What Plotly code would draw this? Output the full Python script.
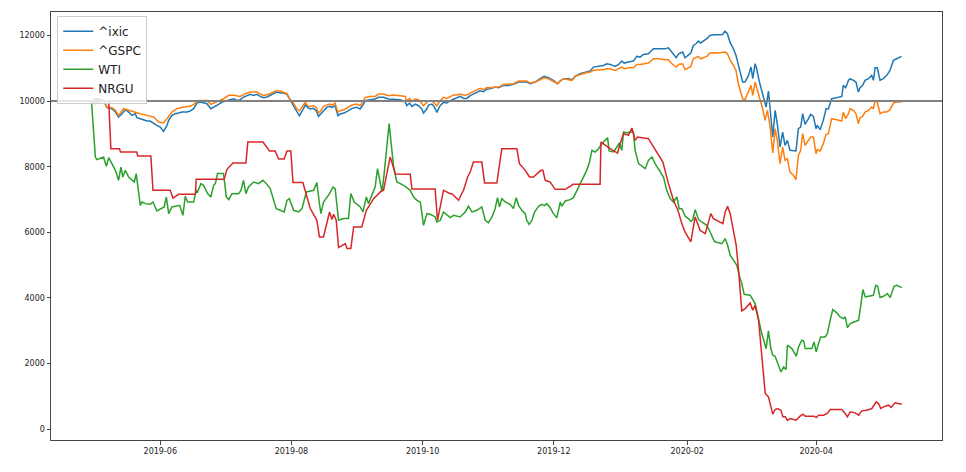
import pandas as pd
import plotly.graph_objects as go

START = "2019-04-30"

# ---- ^ixic (normalised to 10000) : day offset from START, value ----
ixic_day = [0, 2.5, 4, 5.6, 7.2, 9.5, 11.1, 12.6, 14.2, 15.7,
            17.3, 18.8, 20.4, 21.1, 22.7, 24.2, 25.8, 27.3, 28.9, 30.4,
            32, 33.5, 35.1, 35.9, 37.4, 39, 40.5, 42.1, 44.4, 45.9,
            47.5, 49, 50.6, 52.1, 53.7, 55.5, 57.6, 59.1, 60.7, 62.2,
            63.8, 66.1, 67.6, 69.2, 70.7, 72.3, 73.8, 75.4, 76.9, 78.5,
            80, 81.6, 83.1, 84.7, 86.2, 87.8, 89.3, 90.9,
            92.4, 93.9, 95.5, 96.7, 98.3, 99.4, 100.5, 101.7, 103.2, 104.5,
            105.6, 106.7, 107.9, 109.4, 110.7, 111.8, 113.3, 114.6, 115.6, 117.5,
            119.5, 121.1, 123.4, 124.9, 126.2, 127.3, 129.6, 131.9, 133.5, 135.8,
            138.1, 140.4, 143.5, 145.9, 146.6, 147.9, 149, 150.5, 152.1, 153.6,
            154.4, 155.9, 156.7, 158.3, 159.3, 160.6, 162.1, 163.7, 165.2, 166.8,
            168.3, 169.9, 171.4, 173, 174.5, 176.1, 177.6, 179.2, 180.7, 182.3,
            183.8,
            185.4, 187.7, 189.3, 191.6, 193.9, 196.2, 198.6, 200.9, 202.4, 204,
            206.3, 208.6, 210.5, 212.5, 214.8, 216.7, 217.9, 219.5, 221.8, 223.4,
            224.9, 227.2, 229.6, 231.9, 233.4, 235.8, 238.1, 239.6, 241.2, 243.5,
            245.1, 246.6, 247.7, 249.7, 252, 253.6, 255.1, 256.7, 259, 261.3,
            263.7, 266.8, 268.3, 269.9, 271.9, 273,
            274.9, 276, 277.6, 278.7, 279.9, 281.1, 282.2, 283.3, 284.5, 286.1,
            287.6, 289.2, 291.5, 293.5, 294.6, 295.7, 296.9, 298.5, 299.7, 300.8,
            301.6, 302.8, 303.9, 305.5, 306.7, 307.5, 308.6, 309.3, 310.6, 311.7,
            312.8, 313.7, 314.8, 315.5, 316.8, 317.9, 318.9, 320.2, 321.4, 322.5,
            323.6, 324.8, 326.4, 327.6, 328.7, 329.8, 330.7, 331.8, 333.4, 334.4,
            335.7, 336.9, 337.5, 338.8, 340.3, 341.6, 342.7, 344.2, 346.5, 348.9,
            349.6, 350.7, 352, 352.7, 354.3, 355.5, 356.6, 357.4, 358.6, 359.7,
            361.3, 362.8, 363.6, 364.4, 365.4, 366.7, 368.2, 369.8, 371.3, 372.9,
            374.4, 376.7]
ixic_val = [10000, 10072, 10042, 10021, 9798, 9767, 9666, 9514, 9615, 9737,
            9666, 9564, 9615, 9493, 9463, 9432, 9392, 9392, 9310, 9260,
            9209, 9077, 9260, 9412, 9564, 9615, 9636, 9666, 9666, 9696,
            9767, 9940, 9971, 9940, 9920, 9767, 9839, 9900, 9971, 10001,
            10042, 10072, 10021, 10042, 10123, 10174, 10204, 10174, 10204, 10143,
            10103, 10123, 10174, 10245, 10275, 10245, 10245, 10204,
            10011, 9859, 9676, 9554, 9737, 9879, 9808, 9757, 9778, 9706,
            9534, 9605, 9706, 9808, 9838, 9808, 9859, 9554, 9605, 9635,
            9706, 9778, 9808, 9757, 9879, 10011, 10042, 10062, 10113, 10113,
            10062, 10062, 10042, 9981, 9859, 9940, 9838, 9909, 9859, 9757,
            9635, 9757, 9879, 9909, 9838, 9656, 9859, 9960, 9940, 10011,
            10062, 10113, 10143, 10082, 10082, 10164, 10214, 10285, 10316, 10285,
            10366,
            10377, 10428, 10407, 10478, 10478, 10509, 10580, 10580, 10580, 10529,
            10580, 10681, 10752, 10712, 10631, 10529, 10610, 10681, 10681, 10651,
            10752, 10834, 10884, 10915, 11036, 11057, 11087, 11138, 11118, 11057,
            11118, 11219, 11158, 11189, 11219, 11362, 11341, 11422, 11442, 11595,
            11595, 11595, 11625, 11493, 11321, 11442,
            11493, 11321, 11392, 11463, 11697, 11747, 11828, 11767, 11828, 11900,
            12001, 12021, 12021, 12031, 12133, 12052, 11798, 11595, 11392, 11087,
            10955, 10580, 10580, 10783, 11036, 10681, 11138, 10986, 10580, 10275,
            9971, 9818, 10306, 9818, 8904, 9717, 9311, 8600, 9057, 8651,
            8803, 8498, 8498, 8478, 9158, 9209, 9615, 9290, 9463, 9595,
            9534, 9158, 9260, 9128, 9412, 9767, 9767, 10072, 10103, 10143,
            10478, 10407, 10631, 10681, 10631, 10580, 10275, 10407, 10478, 10631,
            10681, 10783, 10631, 11016, 11016, 10631, 10681, 10783, 10935, 11240,
            11290, 11362]

# ---- ^GSPC ----
gspc_day = [0, 1.8, 3.3, 5.6, 7.2, 9.5, 11.1, 12.6, 14.9, 17.3,
            19.6, 22.7, 25.8, 28.9, 31.2, 33.5, 35.1, 37.4, 39.7, 42.8,
            45.9, 47.5, 49.8, 53.7, 55.5, 58.3, 61.4, 63.8, 66.1, 69.2,
            71.5, 73.8, 76.9, 80, 83.1, 85.4, 87.8, 90.9,
            92.4, 93.9, 95.5, 96.7, 98.3, 99.4, 100.5, 101.7, 103.2, 104.5,
            105.6, 106.7, 107.9, 109.4, 110.7, 111.8, 113.3, 114.6, 115.6, 117.5,
            119.5, 121.1, 123.4, 124.9, 126.2, 127.3, 129.6, 131.9, 133.5, 135.8,
            138.1, 140.4, 143.5, 145.9, 146.6, 147.9, 149, 150.5, 152.1, 153.6,
            154.4, 155.9, 156.7, 158.3, 159.3, 160.6, 162.1, 163.7, 165.2, 166.8,
            168.3, 169.9, 171.4, 173, 174.5, 176.1, 177.6, 179.2, 180.7, 182.3,
            183.8,
            185.4, 187.7, 189.3, 191.6, 193.9, 196.2, 198.6, 200.9, 202.4, 204,
            206.3, 208.6, 210.5, 212.5, 214.8, 216.7, 217.9, 219.5, 221.8, 223.4,
            224.9, 227.2, 229.6, 231.9, 233.4, 235.8, 238.1, 239.6, 241.2, 243.5,
            245.1, 246.6, 247.7, 249.7, 252, 253.6, 255.1, 256.7, 259, 261.3,
            263.7, 266.8, 268.3, 269.9, 271.9, 273,
            274.9, 276, 277.6, 278.7, 279.9, 281.1, 282.2, 283.3, 284.5, 286.1,
            287.6, 289.2, 291.5, 293.5, 294.6, 295.7, 296.9, 298.5, 299.7, 300.8,
            301.9, 302.8, 303.9, 305.5, 306.7, 307.5, 308.6, 309.7, 310.9, 312.1,
            313.2, 314.3, 315.5, 316.8, 317.9, 318.9, 320.2, 321.4, 322.5, 323.6,
            324.8, 326.4, 327.6, 328.7, 329.8, 330.7, 331.8, 333.4, 334.4, 335.7,
            336.9, 337.5, 338.8, 340.3, 341.6, 342.7, 344.2, 346.5, 348.9, 349.6,
            350.7, 352, 352.7, 354.3, 355.5, 356.6, 357.4, 358.6, 359.7, 361.3,
            362.8, 363.6, 364.4, 365.4, 366.7, 368.2, 369.8, 371.3, 372.9, 374.4,
            376.7]
gspc_val = [10000, 9920, 9971, 10021, 9818, 9798, 9717, 9564, 9767, 9717,
            9666, 9615, 9564, 9514, 9361, 9331, 9463, 9666, 9767, 9818,
            9839, 9900, 10021, 10021, 9900, 9971, 10072, 10174, 10174, 10143,
            10225, 10275, 10275, 10174, 10225, 10306, 10306, 10225,
            10042, 9940, 9757, 9706, 9838, 9960, 9859, 9838, 9859, 9808,
            9635, 9706, 9838, 9879, 9909, 9879, 9940, 9656, 9706, 9737,
            9808, 9879, 9909, 9859, 9981, 10113, 10143, 10143, 10214, 10214,
            10164, 10184, 10164, 10143, 10011, 10082, 9981, 10062, 10042, 9940,
            9859, 9960, 10011, 10011, 9940, 9859, 10011, 10113, 10082, 10143,
            10184, 10184, 10214, 10184, 10184, 10245, 10285, 10346, 10387, 10346,
            10417,
            10407, 10428, 10428, 10509, 10509, 10529, 10610, 10610, 10610, 10549,
            10580, 10651, 10712, 10681, 10610, 10529, 10610, 10681, 10651, 10631,
            10752, 10813, 10854, 10884, 10935, 10955, 10955, 10986, 10986, 10935,
            10986, 11036, 10986, 11016, 11016, 11118, 11118, 11138, 11158, 11290,
            11290, 11260, 11260, 11138, 11036, 11118,
            11138, 10955, 11016, 11057, 11290, 11341, 11362, 11290, 11321, 11362,
            11463, 11473, 11463, 11483, 11493, 11442, 11260, 11087, 10935, 10529,
            10225, 10072, 10042, 10275, 10478, 10174, 10580, 10326, 10072, 9767,
            9412, 9717, 9260, 8417, 9158, 8803, 8092, 8600, 8194, 8244,
            7838, 7737, 7605, 8346, 8498, 9006, 8651, 8803, 8904, 8904,
            8397, 8519, 8478, 8702, 8986, 9006, 9463, 9432, 9392, 9666,
            9463, 9615, 9767, 9717, 9615, 9311, 9493, 9534, 9666, 9717,
            9818, 9767, 10001, 9971, 9615, 9666, 9666, 9737, 9940, 9971,
            9971]

# ---- WTI ----
wti_day = [0, 1.8, 2.5, 4.1, 5.6, 6.9, 8, 9.5, 11.1, 12.6,
           13.7, 14.6, 15.7, 17.3, 18.8, 19.9, 20.8, 22.7, 23.5, 25,
           27.3, 28.6, 30.4, 32.8, 33.8, 34.8, 35.9, 37.4, 39.7, 41,
           42.5, 43.6, 44.7, 47.5, 48.7, 49.3, 50.9, 52.1, 54, 55.5,
           56.8, 57.6, 58.6, 61.4, 62.7, 63.8, 65.3, 68.4, 69.5, 70.7,
           71.8, 73, 75.4, 77.7, 79.7, 81.3, 83.1, 85.9, 87.8, 89.6,
           90.9, 92, 94, 96.3, 97.9, 99.9, 103.3, 104.8, 106, 106.7,
           107.9, 110.7, 112.3, 113.3, 114.9, 117.2, 119.5, 120.6, 122.2, 125,
           126.2, 127.8, 128.8, 130.4, 131.9, 133, 133.9, 135.1, 136.1, 138.4,
           140.5, 142, 143.6, 145.9, 148.2, 149.8, 151.3, 152.9, 154.4, 156,
           157.5, 159.8, 160.6, 162.2, 163.7, 165.3, 166.8, 168.4, 169.9, 171.4,
           173.8, 175.3, 176.9, 179.2, 181.5, 183.1, 184.6, 186.2, 187.7, 188.8,
           189.7, 190.8, 192.4, 194.7, 196.2, 197.5, 198.6, 200.1, 201.7, 202.4,
           203.5, 204.8, 206, 207.9, 209.4, 210.7, 211.7, 213.3, 214.8, 216.4,
           218, 218.7, 220.3, 222.6, 224.1, 225.7, 227.2, 228.8, 230.3, 231.6,
           232.7, 234.2, 235.8, 237.3, 238.9, 240, 240.7, 242.7, 244.3, 245.5,
           246.6, 247.4, 248.9, 250.5, 252, 252.8, 254.4, 255.9, 257.5, 259,
           260.6, 262.1, 264.4, 266, 267.5, 269.1, 270.6, 272.2, 273.3, 274.5,
           276.1, 277.6, 278.7, 279.6, 280.7, 282.3, 283.8, 286.1, 287.7, 289.6,
           290.8, 293.1, 294.7, 295.8, 297, 298.5, 300.1, 301.6, 302.4, 303.5,
           306.3, 308.6, 310.2, 311.7, 313.7, 314.8, 315.9, 316.8, 317.9, 319.5,
           320.6, 321.8, 323, 323.6, 325.7, 327.7, 328.8, 330.3, 331.1, 331.9,
           335, 336, 337, 338.1, 339.1, 341.2, 342.2, 343.5, 344.7, 346.6,
           348.1, 349.7, 350.5, 351.5, 352.8, 354.3, 356.7, 357.7, 358.7, 359.8,
           361.3, 363.6, 364.7, 365.6, 366.7, 368.3, 370.1, 371.4, 373.2, 374.5,
           376.8]
wti_val = [10000, 8294, 8215, 8245, 8294, 8011, 8276, 8093, 7889, 7585,
           7990, 7685, 7889, 7685, 7606, 7533, 7789, 6823, 6924, 6874,
           6853, 6924, 6650, 6722, 6772, 7076, 6570, 6772, 6793, 6823,
           6518, 7097, 6924, 6924, 7280, 7229, 7484, 7432, 7179, 7076,
           7432, 7484, 7789, 7789, 7076, 6995, 7179, 7179, 7280, 7585,
           7179, 7381, 7533, 7484, 7585, 7484, 7332, 6722, 6671, 6619,
           6975, 7027, 6671, 6619, 6722, 7229, 7280, 7514, 6874, 6570,
           6924, 7179, 7381, 7332, 6366, 6418, 6418, 7179, 6924, 6772,
           6619, 7076, 6874, 7128, 7381, 7941, 7636, 7229, 7789, 9311,
           7990, 7533, 7483, 7402, 7280, 7077, 6975, 6925, 6214, 6569,
           6549, 6468, 6316, 6366, 6620, 6518, 6447, 6518, 6488, 6468,
           6620, 6793, 6620, 6671, 6773, 6366, 6295, 6468, 6721, 7057,
           6773, 7026, 6925, 6854, 6721, 7057, 6823, 6671, 6569, 6366,
           6244, 6366, 6620, 6793, 6854, 6813, 6874, 6752, 6569, 6447,
           6925, 6793, 6955, 6996, 7057, 7280, 7483, 7686, 7889, 8143,
           8498, 8448, 8549, 8702, 8803, 8884, 8478, 8448, 8600, 8722,
           8498, 9057, 9027, 9057, 9057, 8498, 8093, 8011, 7940, 8194,
           8295, 8093, 7838, 7686, 7280, 7026, 6925, 7077, 6721, 6721,
           6488, 6418, 6330, 6387, 6692, 6387, 6315, 6214, 6010, 5726,
           5696, 5655, 5808, 5605, 5300, 5168, 4995, 4589, 4437, 4112,
           4082, 3828, 3320, 2914, 2457, 2995, 2457, 2254, 2224, 1949,
           1746, 1898, 1817, 2559, 2457, 2224, 2508, 2711, 2691, 2457,
           2457, 2660, 2356, 2609, 2812, 2812, 2914, 3320, 3645, 3544,
           3422, 3371, 3422, 3097, 3219, 3259, 3320, 3750, 4254, 4031,
           4051, 4082, 4386, 4356, 4011, 4051, 4132, 4011, 4356, 4386,
           4316]

# ---- NRGU ----
nrgu_day = [0, 8, 9, 13, 13.5, 21, 21.5, 27.6, 28.6, 36.6,
            37.9, 40.5, 48.3, 48.7, 61.7, 63, 65.8, 71.8, 72.7, 79.7,
            82.8, 85.4, 87, 89.6, 90.9, 92.7, 93.7, 98.3, 101.7, 104.8,
            106, 107.9, 110.7, 111.8, 112.6, 113.8, 114.9, 118, 118.8, 120.6,
            121.9, 125.7, 127.8, 131.2, 135.1, 135.8, 138.9, 141.3, 148.2, 149,
            159.8, 160.9, 163.7, 166.8, 167.6, 170.7, 171.4, 173, 174.9, 176.1,
            177.6, 181.5, 182.8, 188.5, 190.8, 197.8, 199, 201.7, 203.7, 205.5,
            209, 209.9, 211, 213.3, 215.6, 220.3, 222.6, 223.9, 236.5, 236.9,
            241.2, 244.6, 245.8, 247.4, 249.7, 251.3, 252.8, 253.9, 259, 261.3,
            265.7, 268.3, 270.6, 272.7, 274.5, 276, 278.7, 280.7, 283, 285.4,
            286.9, 288, 289.2, 290.8, 293.6, 294.7, 295.8, 297, 298.5, 299.8,
            300.9, 301.9, 302.4, 304, 306.3, 307.5, 308.6, 310.2, 311.7, 313.3,
            314.8, 315.9, 316.8, 317.9, 319, 320.6, 321.5, 322.6, 323.6, 324.9,
            326.4, 327.7, 329.5, 330.8, 331.9, 336, 337, 338.1, 340.4, 342.2,
            343.5, 348.9, 350.5, 351.5, 352.8, 355.1, 356.7, 358.2, 360.5, 362.9,
            364.9, 366, 367, 368.3, 370.6, 371.8, 373.7, 375.3, 376.8]
nrgu_val = [10000, 10000, 8550, 8550, 8447, 8447, 8325, 8325, 7280, 7280,
            7045, 7158, 7158, 7615, 7615, 7920, 8111, 8111, 8751, 8751,
            8477, 8477, 8233, 8233, 8477, 8477, 7515, 7515, 6732, 6367,
            5858, 5858, 6619, 6388, 6549, 6367, 5535, 5656, 5504, 5504,
            6162, 6162, 6671, 7027, 7280, 7280, 8300, 7780, 7767, 7320,
            7320, 6366, 7280, 7179, 7179, 6977, 7076, 7280, 7685, 7838,
            8142, 8142, 7503, 7503, 8550, 8550, 8093, 7889, 7685, 7685,
            7889, 7889, 7585, 7533, 7310, 7310, 7402, 7463, 7463, 8751,
            8550, 8416, 8702, 9007, 8955, 9178, 8803, 8904, 8855, 8599,
            8142, 7484, 6975, 6671, 6266, 6011, 5706, 6467, 6062, 5960,
            6366, 6569, 6417, 6366, 6265, 6620, 6793, 6569, 6010, 5605,
            4843, 4132, 3604, 3676, 3848, 3625, 3777, 3320, 2203, 1087,
            985, 731, 457, 599, 630, 579, 375, 375, 274, 325,
            295, 274, 396, 457, 396, 396, 355, 426, 426, 477,
            599, 599, 477, 375, 528, 497, 426, 558, 579, 630,
            833, 782, 630, 680, 731, 660, 802, 782, 761]

SERIES = [("^ixic", ixic_day, ixic_val, "#1f77b4"),
          ("^GSPC", gspc_day, gspc_val, "#ff7f0e"),
          ("WTI", wti_day, wti_val, "#2ca02c"),
          ("NRGU", nrgu_day, nrgu_val, "#d62728")]

BASELINE = 10000
X_TICKS = ["2019-06-01", "2019-08-01", "2019-10-01", "2019-12-01", "2020-02-01", "2020-04-01"]
X_TICK_LABELS = ["2019-06", "2019-08", "2019-10", "2019-12", "2020-02", "2020-04"]
Y_TICKS = [0, 2000, 4000, 6000, 8000, 10000, 12000]

start = pd.Timestamp(START)


def to_dates(days):
    return start + pd.to_timedelta(list(days), unit="D")


fig = go.Figure()
for name, days, vals, color in SERIES:
    n = min(len(days), len(vals))
    fig.add_trace(go.Scatter(x=to_dates(days[:n]), y=vals[:n], mode="lines", name=name,
                             line=dict(color=color, width=1.5)))

fig.add_shape(type="line", xref="paper", x0=0, x1=1, yref="y", y0=BASELINE, y1=BASELINE,
              line=dict(color="gray", width=2), layer="above")

x_lo = start + pd.Timedelta(days=-18.83)
x_hi = start + pd.Timedelta(days=395.5)

axis_common = dict(showgrid=False, zeroline=False, showline=True, linecolor="#444", linewidth=1,
                   mirror=True, ticks="outside", ticklen=3.5, tickwidth=1, tickcolor="#444",
                   tickfont=dict(family="DejaVu Sans", size=8, color="#222"))

fig.update_layout(
    width=966, height=472, autosize=False,
    margin=dict(l=51, r=24, t=12, b=32),
    plot_bgcolor="white", paper_bgcolor="white",
    font=dict(family="DejaVu Sans", size=8, color="#222"),
    legend=dict(x=0.007, y=0.991, xanchor="left", yanchor="top",
                bgcolor="rgba(255,255,255,0.8)", bordercolor="#cccccc", borderwidth=1,
                font=dict(family="DejaVu Sans", size=12, color="#222"),
                itemwidth=30, tracegroupgap=0),
    xaxis=dict(range=[x_lo, x_hi], tickvals=X_TICKS, ticktext=X_TICK_LABELS, **axis_common),
    yaxis=dict(range=[-330, 12715], tickvals=Y_TICKS, ticktext=[str(t) for t in Y_TICKS], **axis_common),
)

fig.write_html("out.html", config={"responsive": False, "displayModeBar": False},
               post_script="document.body.style.margin='0px';document.body.style.overflow='hidden';")
